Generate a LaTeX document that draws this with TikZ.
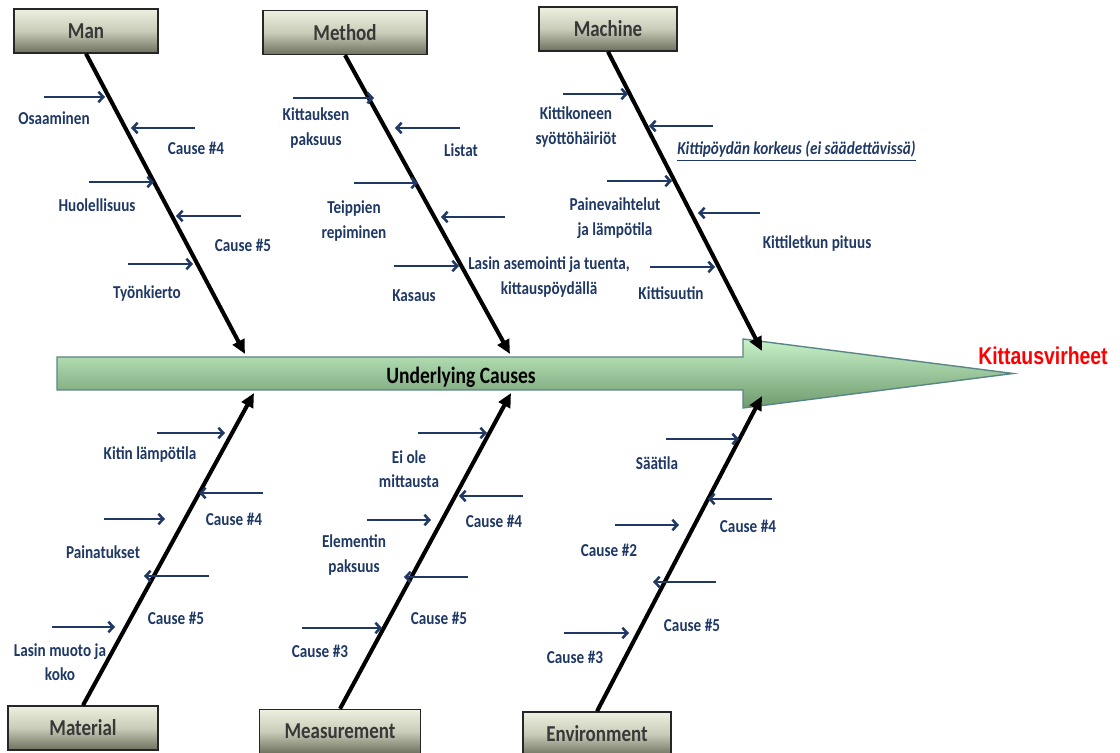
\documentclass[tikz,border=0pt]{standalone}
\usepackage{fontspec}
\setmainfont{Carlito}
\newfontfamily\arialfont{Liberation Sans}
\usetikzlibrary{arrows.meta}

\definecolor{navy}{HTML}{1F3864}
\definecolor{boxtop}{HTML}{EEF0E0}
\definecolor{boxmid}{HTML}{C9CCB8}
\definecolor{boxbot}{HTML}{6C705C}
\definecolor{spinetop}{HTML}{C8F2C8}
\definecolor{spinebot}{HTML}{6E9A6E}
\definecolor{spineedge}{HTML}{5B8585}

\begin{document}
\begin{tikzpicture}[x=0.025cm, y=-0.025cm,
     bone/.style = {line width=2.9pt, -{Triangle[length=10pt,width=9pt]}},
    cause/.style = {navy, line width=1.8pt, -{Straight Barb[length=3.5pt,width=7.5pt]}},
      lbl/.style = {text=navy, font=\fontsize{10.8}{14.5}\selectfont\bfseries,
                    align=center, inner sep=0pt, yscale=1.2},
    group/.style = {draw=black!85, line width=0.8pt, top color=boxtop,
                    bottom color=boxbot, middle color=boxmid, inner sep=0pt,
                    minimum height=0.917cm, yscale=1.2, text=black!78,
                    font=\fontsize{13.5}{16}\selectfont\bfseries}
                        ]
\useasboundingbox (0,0) rectangle (1120,753);
% spine
\path[draw=spineedge, line width=1pt, top color=spinetop, bottom color=spinebot]
    (57,357) -- (743,357) -- (743,339) -- (1013,373.5) -- (743,408)
    -- (743,390) -- (57,390) -- cycle;
\node[font=\fontsize{13.9}{16}\selectfont\bfseries, yscale=1.2, inner sep=0pt] (causes) at (461,377) {Underlying Causes};
\node[font=\arialfont\fontsize{13.8}{16}\selectfont\bfseries, text=red, yscale=1.25, inner sep=0pt] (effect) at (1043,356) {Kittausvirheet};
% category boxes
\node[group, minimum width=3.6cm]   (man)         at (86,31)    {Man};
\node[group, minimum width=4.1cm]   (method)      at (345,32.5) {Method};
\node[group, minimum width=3.45cm]  (machine)     at (608,29)   {Machine};
\node[group, minimum width=3.75cm]  (material)    at (83,728)   {Material};
\node[group, minimum width=4.03cm]  (measurement) at (340,731.5){Measurement};
\node[group, minimum width=3.7cm]   (environment) at (597,734)  {Environment};
% bones
\coordinate (man tip)         at (245,354);
\coordinate (method tip)      at (510,354);
\coordinate (machine tip)     at (762,351);
\coordinate (material tip)    at (254,393);
\coordinate (measurement tip) at (511,393);
\coordinate (environment tip) at (762,396);
\draw[bone] (man.south) -- (man tip);
\draw[bone] (method.south) -- (method tip);
\draw[bone] (machine.south) -- (machine tip);
\draw[bone] (material.north) -- (material tip);
\draw[bone] (measurement.north) -- (measurement tip);
\draw[bone] (environment.north) -- (environment tip);
% man
\draw[cause] (44,97) coordinate (man1s) -- (105,97) coordinate (man1e);
\draw[cause] (195,128) coordinate (man2s) -- (131,128) coordinate (man2e);
\draw[cause] (89,182) coordinate (man3s) -- (154,182) coordinate (man3e);
\draw[cause] (241,216) coordinate (man4s) -- (176,216) coordinate (man4e);
\draw[cause] (128,264) coordinate (man5s) -- (193,264) coordinate (man5e);
\node[lbl] (man1) at (54,118)  {Osaaminen};
\node[lbl] (man2) at (196,148) {Cause \#4};
\node[lbl] (man3) at (97,205)  {Huolellisuus};
\node[lbl] (man4) at (243,245) {Cause \#5};
\node[lbl] (man5) at (147,294) {Työnkierto};
% method
\draw[cause] (293,98) coordinate (met1s) -- (374,98) coordinate (met1e);
\draw[cause] (460,128) coordinate (met2s) -- (395,128) coordinate (met2e);
\draw[cause] (354,183) coordinate (met3s) -- (418,183) coordinate (met3e);
\draw[cause] (505,217) coordinate (met4s) -- (441,217) coordinate (met4e);
\draw[cause] (394,266) coordinate (met5s) -- (459,266) coordinate (met5e);
\node[lbl] (met1) at (316,128) {Kittauksen\\paksuus};
\node[lbl] (met2) at (461,150) {Listat};
\node[lbl] (met3) at (354,221) {Teippien\\repiminen};
\node[lbl] (met4) at (549,277) {Lasin asemointi ja tuenta,\\kittauspöydällä};
\node[lbl] (met5) at (414,296) {Kasaus};
% machine
\draw[cause] (563,94) coordinate (mac1s) -- (628,94) coordinate (mac1e);
\draw[cause] (713,126) coordinate (mac2s) -- (649,126) coordinate (mac2e);
\draw[cause] (607,181) coordinate (mac3s) -- (672,181) coordinate (mac3e);
\draw[cause] (760,213) coordinate (mac4s) -- (698,213) coordinate (mac4e);
\draw[cause] (650,267) coordinate (mac5s) -- (715,267) coordinate (mac5e);
\node[lbl] (mac1) at (576,127) {Kittikoneen\\syöttöhäiriöt};
\node[lbl, anchor=west] (mac2) at (677,151) {\itshape\underline{Kittipöydän korkeus (ei säädettävissä)}};
\node[lbl] (mac3) at (615,218) {Painevaihtelut\\ja lämpötila};
\node[lbl] (mac4) at (817,244) {Kittiletkun pituus};
\node[lbl] (mac5) at (671,293) {Kittisuutin};
% material
\draw[cause] (157,433) coordinate (mat1s) -- (225,433) coordinate (mat1e);
\draw[cause] (263,493) coordinate (mat2s) -- (199,493) coordinate (mat2e);
\draw[cause] (104,519) coordinate (mat3s) -- (165,519) coordinate (mat3e);
\draw[cause] (209,576) coordinate (mat4s) -- (144,576) coordinate (mat4e);
\draw[cause] (52,627) coordinate (mat5s) -- (115,627) coordinate (mat5e);
\node[lbl] (mat1) at (150,455) {Kitin lämpötila};
\node[lbl] (mat2) at (234,519) {Cause \#4};
\node[lbl] (mat3) at (103,552) {Painatukset};
\node[lbl] (mat4) at (176,618) {Cause \#5};
\node[lbl] (mat5) at (60,662)  {Lasin muoto ja\\koko};
% measurement
\draw[cause] (418,433) coordinate (mea1s) -- (487,433) coordinate (mea1e);
\draw[cause] (523,496) coordinate (mea2s) -- (459,496) coordinate (mea2e);
\draw[cause] (367,520) coordinate (mea3s) -- (431,520) coordinate (mea3e);
\draw[cause] (468,577) coordinate (mea4s) -- (404,577) coordinate (mea4e);
\draw[cause] (302,628) coordinate (mea5s) -- (382,628) coordinate (mea5e);
\node[lbl] (mea1) at (409,469) {Ei ole\\mittausta};
\node[lbl] (mea2) at (494,521) {Cause \#4};
\node[lbl] (mea3) at (354,555) {Elementin\\paksuus};
\node[lbl] (mea4) at (439,618) {Cause \#5};
\node[lbl] (mea5) at (320,651) {Cause \#3};
% environment
\draw[cause] (666,439) coordinate (env1s) -- (739,439) coordinate (env1e);
\draw[cause] (772,499) coordinate (env2s) -- (708,499) coordinate (env2e);
\draw[cause] (615,525) coordinate (env3s) -- (679,525) coordinate (env3e);
\draw[cause] (716,582) coordinate (env4s) -- (653,582) coordinate (env4e);
\draw[cause] (564,633) coordinate (env5s) -- (629,633) coordinate (env5e);
\node[lbl] (env1) at (657,463) {Säätila};
\node[lbl] (env2) at (748,526) {Cause \#4};
\node[lbl] (env3) at (609,550) {Cause \#2};
\node[lbl] (env4) at (692,625) {Cause \#5};
\node[lbl] (env5) at (575,657) {Cause \#3};
\end{tikzpicture}
\end{document}
